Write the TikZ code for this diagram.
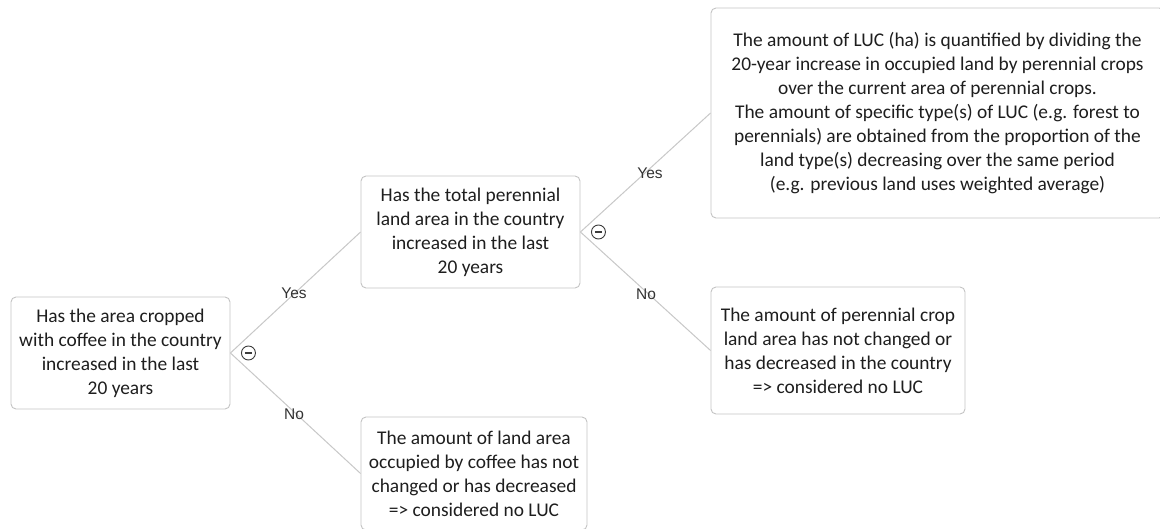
\documentclass[tikz,border=0pt]{standalone}
\usepackage{fontspec}
\setmainfont{Carlito}
\newfontfamily\labelfont{Liberation Sans}
\definecolor{boxline}{HTML}{C4C4C4}
\definecolor{connline}{HTML}{C8C8C8}
\definecolor{txt}{HTML}{1E1E1E}
\definecolor{lbl}{HTML}{333333}
\definecolor{minuscol}{HTML}{3C3C3C}
\tikzset{
  box/.style={draw=boxline, line width=0.9pt, rounded corners=5pt, align=center,
    text=txt, inner sep=0pt, font=\fontsize{19.4}{24}\selectfont},
  conn/.style={draw=connline, line width=1pt},
  lab/.style={text=lbl, font=\labelfont\fontsize{15.5}{17}\selectfont, inner sep=0pt},
  minusc/.style={circle, draw=minuscol, line width=0.9pt, minimum size=14pt, inner sep=0pt,
    path picture={\draw[minuscol, line width=1.3pt] ([xshift=-3.5pt]path picture bounding box.center) -- ([xshift=3.5pt]path picture bounding box.center);}},
}
\begin{document}
\begin{tikzpicture}[x=1pt,y=-1pt]
\useasboundingbox (0,0) rectangle (1160,529);
\clip (0,0) rectangle (1160,529);
\fill[white] (0,0) rectangle (1160,529);

\node[box, minimum width=219pt, minimum height=112pt] (A) at (120.5,353)
  {Has the area cropped\\with coffee in the country\\increased in the last\\20 years};
\node[box, minimum width=219pt, minimum height=112pt] (B) at (470.5,232)
  {Has the total perennial\\land area in the country\\increased in the last\\20 years};
\node[box, minimum width=453pt, minimum height=210pt] (C) at (937.5,113)
  {The amount of LUC (ha) is quantified by dividing the\\20-year increase in occupied land by perennial crops\\over the current area of perennial crops.\\The amount of specific type(s) of LUC (e.g. forest to\\perennials) are obtained from the proportion of the\\land type(s) decreasing over the same period\\(e.g. previous land uses weighted average)};
\node[box, minimum width=254pt, minimum height=127pt] (D) at (838,350.5)
  {The amount of perennial crop\\land area has not changed or\\has decreased in the country\\=> considered no LUC};
\node[box, minimum width=226pt, minimum height=113pt] (E) at (474,473.5)
  {The amount of land area\\occupied by coffee has not\\changed or has decreased\\=> considered no LUC};

\draw[conn] (A.east) -- (B.west);
\draw[conn] (A.east) -- (E.west);
\draw[conn] (B.east) -- (C.west);
\draw[conn] (B.east) -- (D.west);

\node[minusc] (mA) at ([xshift=18pt]A.east) {};
\node[minusc] (mB) at ([xshift=18pt]B.east) {};

\node[lab] (yA) at (294,293) {Yes};
\node[lab] (nA) at (294,414) {No};
\node[lab] (yB) at (650,173) {Yes};
\node[lab] (nB) at (646,294) {No};
\end{tikzpicture}
\end{document}
